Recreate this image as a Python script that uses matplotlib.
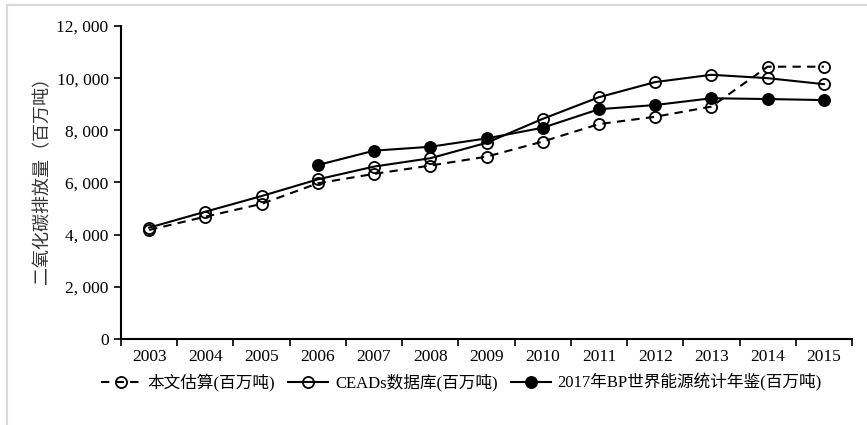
import matplotlib.pyplot as plt
import numpy as np

plt.rcParams['font.family'] = ['Liberation Serif', 'Noto Sans CJK SC', 'DejaVu Sans']

# 数据（百万吨）
years = ['2003', '2004', '2005', '2006', '2007', '2008', '2009',
         '2010', '2011', '2012', '2013', '2014', '2015']
benwen = [4180, 4690, 5180, 5970, 6330, 6650, 6990, 7570, 8240, 8520, 8910, 10440, 10440]
ceads = [4270, 4880, 5480, 6120, 6610, 6930, 7520, 8440, 9270, 9850, 10130, 10000, 9770]
bp = [np.nan, np.nan, np.nan, 6670, 7220, 7370, 7690, 8100, 8810, 8970, 9230, 9200, 9160]

labels = ['本文估算(百万吨)', 'CEADs数据库(百万吨)', '2017年BP世界能源统计年鉴(百万吨)']
yticks = [0, 2000, 4000, 6000, 8000, 10000, 12000]

fig = plt.figure(figsize=(8.67, 4.25), dpi=100)
ax = fig.add_axes([0.1396, 0.2024, 0.8431, 0.7364])

x = np.arange(len(years))
ax.plot(x, benwen, '--', color='black', lw=1.5, marker='o', ms=8,
        mfc='none', mec='black', mew=1.3, dashes=(4, 3), label=labels[0])
ax.plot(x, ceads, '-', color='black', lw=1.5, marker='o', ms=8,
        mfc='none', mec='black', mew=1.3, label=labels[1])
ax.plot(x, bp, '-', color='black', lw=1.5, marker='o', ms=8,
        mfc='black', mec='black', mew=1.3, label=labels[2])

ax.set_xlim(-0.5, len(years) - 0.5)
ax.set_ylim(0, 12000)
ax.set_xticks(x)
ax.set_xticklabels(years, fontsize=12.5)
ax.set_xticks(np.arange(-0.5, len(years)), minor=True)
ax.tick_params(axis='x', which='major', length=0, pad=7)
ax.tick_params(axis='x', which='minor', length=5, width=1.2, direction='out')
ax.set_yticks(yticks)
ax.set_yticklabels([f'{v:,}'.replace(',', ', ') for v in yticks], fontsize=12.5)
ax.tick_params(axis='y', length=5, width=1.2, direction='out', pad=4)

for s in ['top', 'right']:
    ax.spines[s].set_visible(False)
for s in ['left', 'bottom']:
    ax.spines[s].set_linewidth(1.5)

ax.set_ylabel('二氧化碳排放量（百万吨）', fontsize=13, color='#333333', labelpad=3,
              family=['Noto Sans CJK SC'])
ax.yaxis.set_label_coords(-0.095, 0.52)

fig.legend(loc='center', bbox_to_anchor=(0.532, 0.1), ncol=3, frameon=False,
           fontsize=12, handlelength=2.4, columnspacing=0.8, handletextpad=0.4)

# 外框
fig.add_artist(plt.Line2D([0.008, 0.008], [0, 0.988], color='#d9d9d9', lw=1.5,
                          transform=fig.transFigure))
fig.add_artist(plt.Line2D([0.008, 1], [0.988, 0.988], color='#d9d9d9', lw=1.5,
                          transform=fig.transFigure))

fig.savefig('out.png', dpi=100)
